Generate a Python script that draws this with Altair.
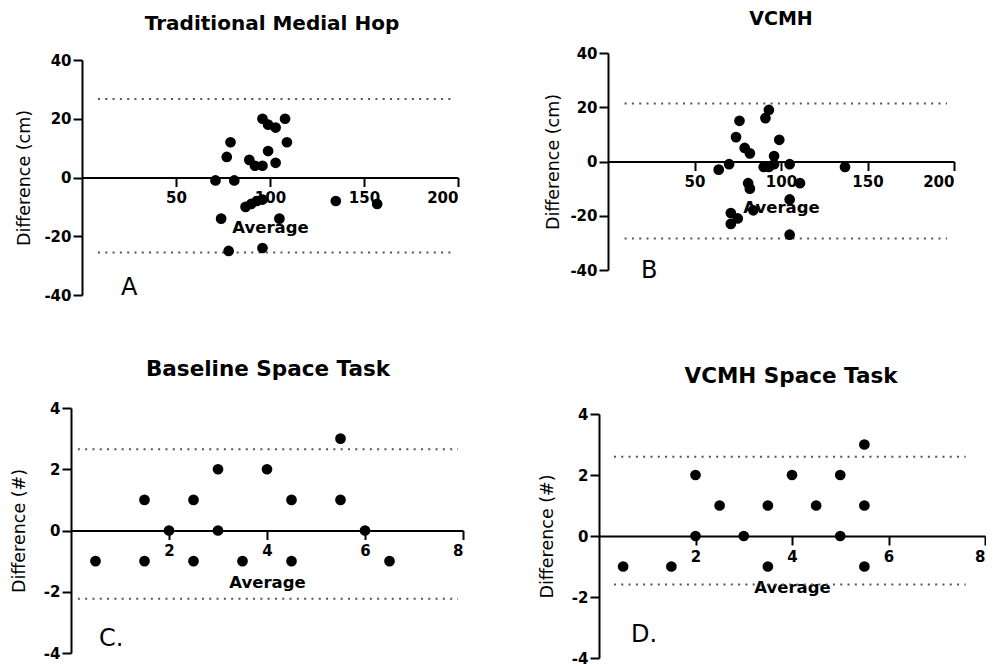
import altair as alt
import pandas as pd

FONT = "DejaVu Sans"

# ---- Panel A: Traditional Medial Hop ----
a_avg = [71, 81, 77, 79, 74, 78, 89, 92, 96, 96, 99, 103, 108, 109, 99, 103, 87, 90, 93, 96, 105, 96, 135, 157]
a_diff = [-1, -1, 7, 12, -14, -25, 6, 4, 4, 20, 18, 17, 20, 12, 9, 5, -10, -9, -8, -7.5, -14, -24, -8, -9]
a_loa = [26.7, -25.5]
a_loa_span = [8.5, 197]

# ---- Panel B: VCMH ----
b_avg = [64, 70, 74, 76, 79, 82, 81, 82, 84, 71, 75, 71, 90, 93, 96, 91, 93, 99, 96, 105, 111, 105, 105, 137]
b_diff = [-3, -1, 9, 15, 5, 3, -8, -10, -18, -19, -21, -23, -2, -2, -1, 16, 19, 8, 2, -1, -8, -14, -27, -2]
b_loa = [21.4, -28.4]
b_loa_span = [9.6, 196]

# ---- Panel C: Baseline Space Task ----
c_avg = [0.5, 1.5, 1.5, 2, 2.5, 2.5, 3, 3, 3.5, 4, 4.5, 4.5, 5.5, 5.5, 6, 6.5]
c_diff = [-1, 1, -1, 0, 1, -1, 2, 0, -1, 2, 1, -1, 3, 1, 0, -1]
c_loa = [2.65, -2.23]
c_loa_span = [0.14, 7.9]

# ---- Panel D: VCMH Space Task ----
d_avg = [0.5, 1.5, 2, 2, 2.5, 3, 3.5, 3.5, 4, 4.5, 5, 5, 5.5, 5.5, 5.5]
d_diff = [-1, -1, 2, 0, 1, 0, 1, -1, 2, 1, 2, 0, 3, 1, -1]
d_loa = [2.6, -1.59]
d_loa_span = [0.31, 7.6]

titles = ["Traditional Medial Hop", "VCMH", "Baseline Space Task", "VCMH Space Task"]
letters = ["A", "B", "C.", "D."]
y_titles = ["Difference (cm)", "Difference (cm)", "Difference (#)", "Difference (#)"]
x_title = "Average"

LABEL_EXPR = "replace(datum.label, '\u2212', '-')"


def panel(avg, diff, loa, span, xdom, xvals, ydom, yvals, w, h, xr, yr,
          title, t_pos, t_size, letter, l_pos, ytitle, ytx, xty):
    pts = pd.DataFrame({"avg": avg, "diff": diff})
    lines = pd.DataFrame({"y": loa, "x0": [span[0]] * len(loa), "x1": [span[1]] * len(loa)})
    y0 = yr[1] + (yr[0] - yr[1]) * (ydom[1] - 0) / (ydom[1] - ydom[0])
    xoff = -(h - y0)

    xscale = alt.Scale(domain=xdom, range=xr, nice=False, zero=False)
    yscale = alt.Scale(domain=ydom, range=yr, nice=False, zero=False)
    common = dict(
        grid=False, domainColor="black", domainWidth=2, tickColor="black",
        tickWidth=2, tickSize=9, labelFont=FONT, labelFontWeight="bold",
        labelFontSize=15, labelColor="black", titleColor="black",
        titleFont=FONT, labelExpr=LABEL_EXPR,
    )
    xaxis = alt.Axis(values=xvals, title=x_title, offset=xoff, titleY=xty,
                     titleBaseline="middle", titleFontSize=16.5,
                     titleFontWeight="bold", labelPadding=4, **common)
    yaxis = alt.Axis(values=yvals, title=ytitle, offset=-xr[0], titleX=ytx,
                     titleBaseline="middle", titleFontSize=17.5,
                     titleFontWeight="normal", labelPadding=2, **common)

    rules = alt.Chart(lines).mark_rule(
        color="#555555", strokeWidth=2, strokeDash=[2, 5.3]
    ).encode(
        x=alt.X("x0:Q", scale=xscale, axis=xaxis),
        x2="x1",
        y=alt.Y("y:Q", scale=yscale, axis=yaxis),
    )
    points = alt.Chart(pts).mark_circle(size=115, color="black", opacity=1).encode(
        x=alt.X("avg:Q", scale=xscale, axis=xaxis),
        y=alt.Y("diff:Q", scale=yscale, axis=yaxis),
    )
    ttl = alt.Chart(pd.DataFrame({"t": [title]})).mark_text(
        font=FONT, fontWeight="bold", fontSize=t_size, color="black",
        align="center", baseline="alphabetic"
    ).encode(text="t:N", x=alt.value(t_pos[0]), y=alt.value(t_pos[1]))
    let = alt.Chart(pd.DataFrame({"t": [letter]})).mark_text(
        font=FONT, fontSize=24, color="black", align="left", baseline="middle"
    ).encode(text="t:N", x=alt.value(l_pos[0]), y=alt.value(l_pos[1]))
    return alt.layer(rules, points, ttl, let).properties(width=w, height=h)


pA = panel(a_avg, a_diff, a_loa, a_loa_span, [0, 200], [50, 100, 150, 200],
           [-40, 40], [-40, -20, 0, 20, 40], 392, 242, [11, 387], [242, 7],
           titles[0], (201, -23), 20, letters[0], (50, 235), y_titles[0], -58, 50)
pB = panel(b_avg, b_diff, b_loa, b_loa_span, [0, 200], [50, 100, 150, 200],
           [-40, 40], [-40, -20, 0, 20, 40], 386, 242, [9, 355], [217, 0],
           titles[1], (182, -28), 19, letters[1], (42, 218), y_titles[1], -55, 45.7)
pC = panel(c_avg, c_diff, c_loa, c_loa_span, [0, 8], [2, 4, 6, 8],
           [-4, 4], [-4, -2, 0, 2, 4], 392, 250, [0, 392], [245, 0],
           titles[2], (197, -32), 21.5, letters[2], (28, 231), y_titles[2], -51.7, 51.7)
pD = panel(d_avg, d_diff, d_loa, d_loa_span, [0, 8], [2, 4, 6, 8],
           [-4, 4], [-4, -2, 0, 2, 4], 386, 250, [0, 386], [250, 6],
           titles[3], (192, -25.3), 21.5, letters[3], (32, 227), y_titles[3], -51.6, 51.3)

chart = alt.concat(
    pA, pB, pC, pD, columns=2, spacing={"row": 113, "column": 136}, bounds="flush"
).properties(
    padding={"left": 2, "top": 2, "right": 0, "bottom": 0}
).configure(background="white").configure_view(stroke=None)

chart.save("out.html", embed_options={"renderer": "svg", "actions": False})
